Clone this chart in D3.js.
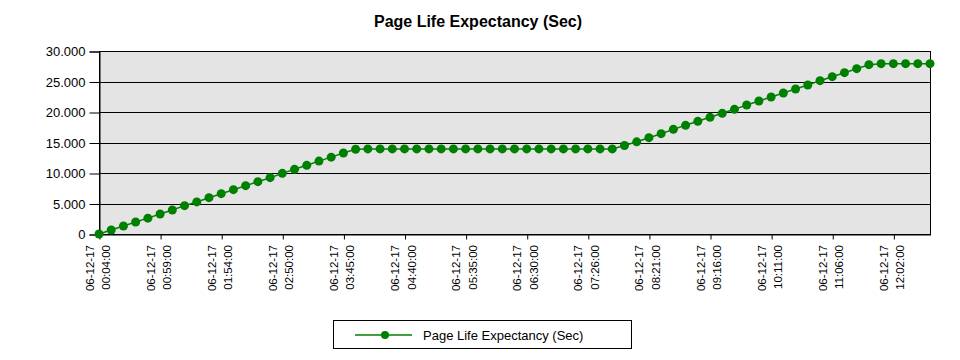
<!DOCTYPE html>
<html>
<head>
<meta charset="utf-8">
<script src="https://cdn.jsdelivr.net/npm/d3@7/dist/d3.min.js"></script>
<style>
  html, body { margin: 0; padding: 0; background: #fff; }
  svg { display: block; font-family: "Liberation Sans", Arial, sans-serif; }
</style>
</head>
<body>
<svg id="chart" width="960" height="360"></svg>
<script>
const title = "Page Life Expectancy (Sec)";
const seriesName = "Page Life Expectancy (Sec)";
const dateLabel = "06-12-17";
const tickTimes = ["00:04:00","00:59:00","01:54:00","02:50:00","03:45:00","04:40:00","05:35:00",
                   "06:30:00","07:26:00","08:21:00","09:16:00","10:11:00","11:06:00","12:02:00"];
const values = [
  0, 656, 1311, 1967, 2600, 3279, 3934, 4645, 5260, 5956, 6612, 7268, 7923, 8579, 9235, 9945,
  10601, 11257, 11950, 12600, 13280, 13900,
  13950, 13950, 13950, 13950, 13950, 13950, 13950, 13950, 13950, 13950, 13950,
  13950, 13950, 13950, 13950, 13950, 13950, 13950, 13950, 13950, 13950,
  14500, 15110, 15792, 16448, 17158, 17814, 18470, 19126, 19781, 20437, 21148,
  21803, 22459, 23115, 23770, 24426, 25137, 25792, 26448, 27104, 27760,
  27920, 27920, 27920, 27920, 27920
];
const yTicks = [0, 5000, 10000, 15000, 20000, 25000, 30000];
const labelEvery = 5;

(function () {
const svg = d3.select("#chart");
const pL = 99, pR = 930, pT = 51, pB = 234;
const green = "#008000";

const x = d3.scalePoint().domain(d3.range(values.length)).range([pL, pR]);
const y = d3.scaleLinear().domain([0, 30000]).range([pB, pT]);

const fmt = d3.formatLocale({decimal: ",", thousands: ".", grouping: [3], currency: ["", ""]}).format(",");

// title
svg.append("text").attr("x", 478).attr("y", 27).attr("text-anchor", "middle")
  .attr("font-size", 16).attr("font-weight", "bold").attr("fill", "#000").text(title);

// plot background
svg.append("rect").attr("x", pL).attr("y", pT).attr("width", pR - pL).attr("height", pB - pT)
  .attr("fill", "#e4e4e4");

// grid lines
svg.append("g").selectAll("line").data(yTicks).join("line")
  .attr("x1", pL).attr("x2", pR)
  .attr("y1", d => Math.round(y(d)) + 0.5).attr("y2", d => Math.round(y(d)) + 0.5)
  .attr("stroke", "#000").attr("stroke-width", 1);

// y axis
const yAxis = svg.append("g").attr("transform", `translate(${pL + 0.5},0.5)`)
  .call(d3.axisLeft(y).tickValues(yTicks).tickFormat(fmt).tickSize(10).tickPadding(4));
yAxis.select(".domain").attr("stroke", "#000");
yAxis.selectAll(".tick line").attr("stroke", "#000");
yAxis.selectAll(".tick text").attr("font-size", 13).attr("fill", "#000")
  .attr("font-family", "'Liberation Sans', Arial, sans-serif");

// x axis
const tickIdx = d3.range(0, values.length, labelEvery);
const xAxis = svg.append("g").attr("transform", `translate(0.5,${pB + 0.5})`)
  .call(d3.axisBottom(x).tickValues(tickIdx).tickFormat(() => "").tickSize(5).tickSizeOuter(0));
xAxis.select(".domain").attr("stroke", "#000");
xAxis.selectAll(".tick line").attr("stroke", "#000");

const xl = svg.append("g").selectAll("text").data(tickIdx).join("text")
  .attr("transform", d => `translate(${x(d)},245) rotate(-90)`)
  .attr("text-anchor", "end").attr("font-size", 11.5).attr("fill", "#000");
xl.append("tspan").attr("x", 0).attr("y", -5.5).text(dateLabel);
xl.append("tspan").attr("x", 0).attr("y", 11).text((d, i) => tickTimes[i]);

// plot border
svg.append("rect").attr("x", pL + 0.5).attr("y", pT + 0.5).attr("width", pR - pL).attr("height", pB - pT)
  .attr("fill", "none").attr("stroke", "#000");

// series line
svg.append("path").datum(values)
  .attr("d", d3.line().x((d, i) => x(i)).y(d => y(d)))
  .attr("fill", "none").attr("stroke", green).attr("stroke-width", 1.5);

svg.append("g").selectAll("circle").data(values).join("circle")
  .attr("cx", (d, i) => x(i)).attr("cy", d => y(d)).attr("r", 4.5).attr("fill", green);

// legend
const lg = svg.append("g");
lg.append("rect").attr("x", 333.5).attr("y", 320.5).attr("width", 298).attr("height", 28)
  .attr("fill", "#fff").attr("stroke", "#000");
lg.append("line").attr("x1", 355).attr("x2", 412).attr("y1", 335).attr("y2", 335)
  .attr("stroke", green).attr("stroke-width", 1.5);
lg.append("circle").attr("cx", 385).attr("cy", 335).attr("r", 4).attr("fill", green);
lg.append("text").attr("x", 423).attr("y", 339.5).attr("font-size", 13).attr("fill", "#000").text(seriesName);
})();
</script>
</body>
</html>
